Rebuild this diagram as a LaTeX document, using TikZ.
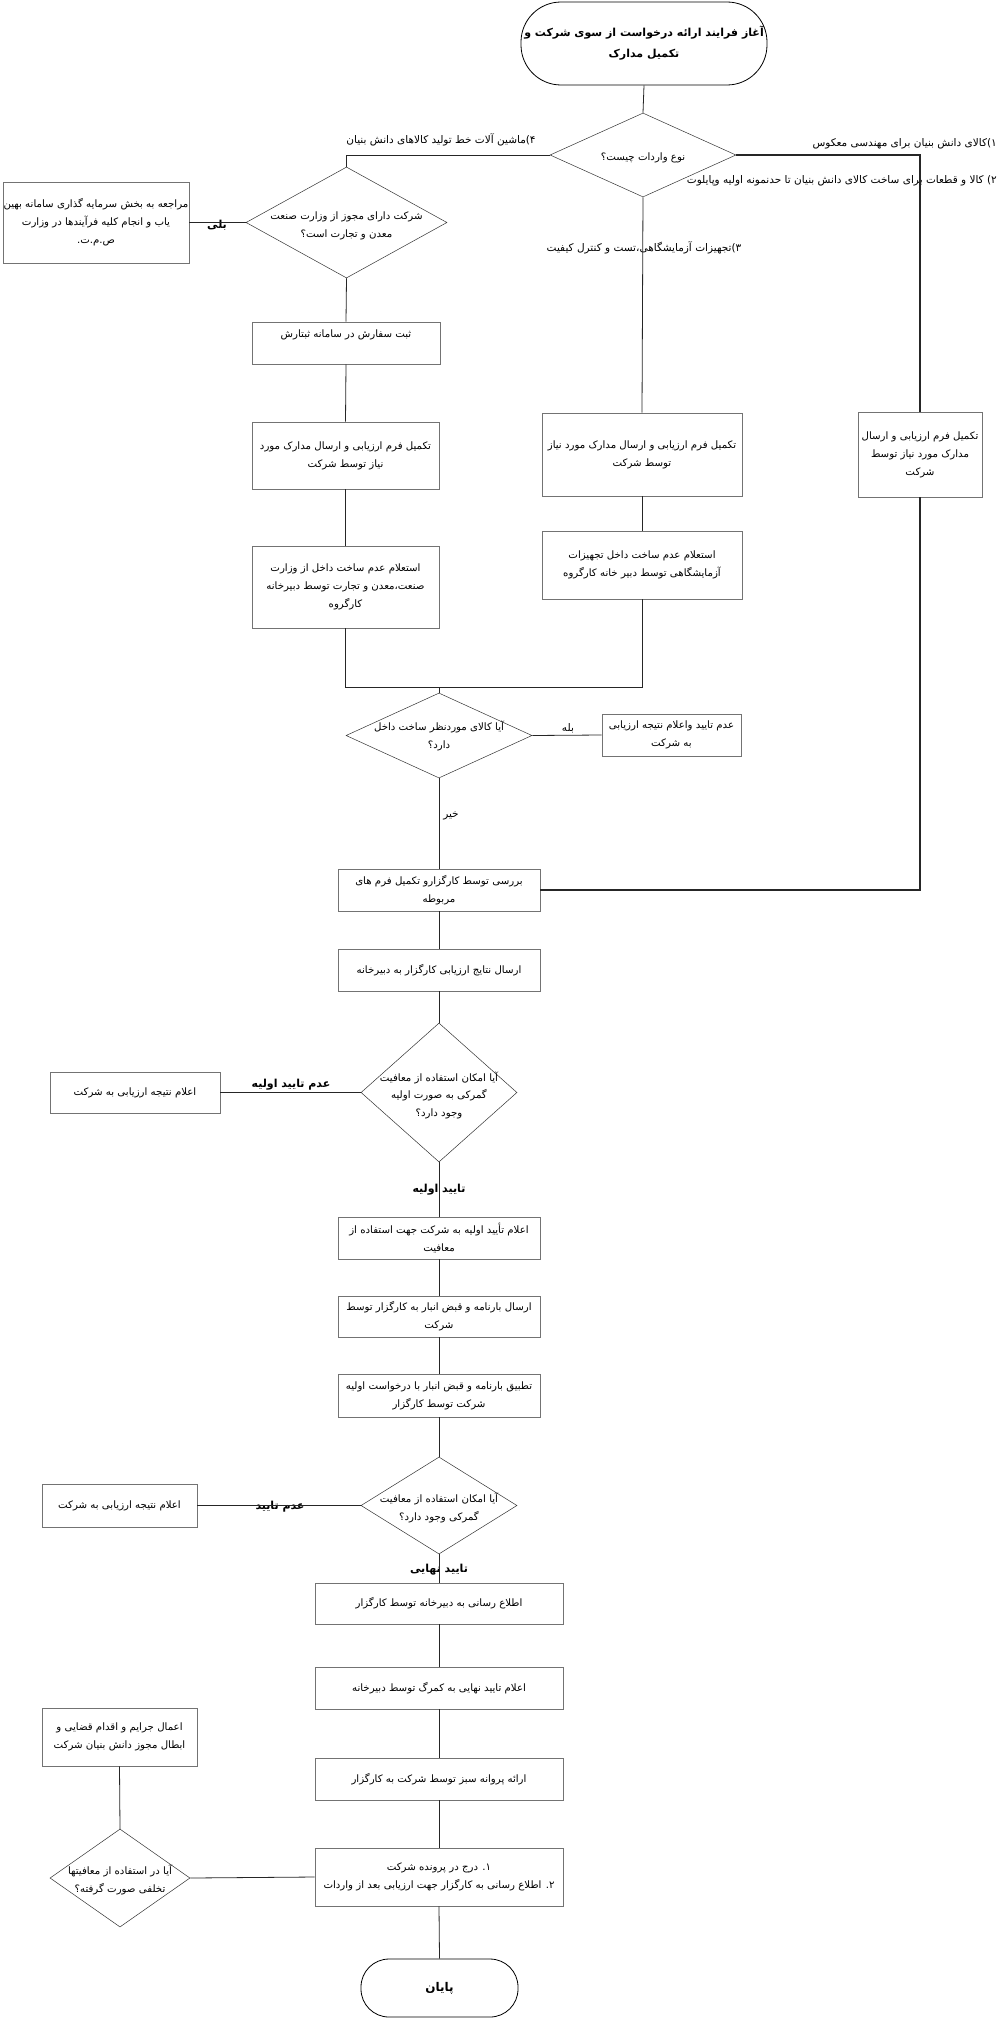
\documentclass[tikz,border=0pt]{standalone}
\usepackage{fontspec}
\newfontfamily\fa[Script=Arabic]{DejaVu Sans}
\TeXXeTstate=1
\usetikzlibrary{shapes.geometric}
\newcommand{\rl}[1]{\beginR #1\endR}
\begin{document}
\begin{tikzpicture}[x=1pt,y=-1pt,
  box/.style={draw=black!55, line width=0.7pt, rectangle, inner sep=0pt, align=center,
    font=\fa\fontsize{10.2}{18}\selectfont},
  dia/.style={draw=black!80, line width=0.5pt, diamond, inner sep=0pt},
  term/.style={draw=black, line width=0.8pt, rectangle, align=center, inner sep=0pt},
  txt/.style={align=center, inner sep=0pt, font=\fa\fontsize{10.2}{17.5}\selectfont},
  lbl/.style={inner sep=0pt, font=\fa\fontsize{10.5}{12}\selectfont},
  blbl/.style={inner sep=0pt, font=\fa\bfseries\fontsize{11}{12}\selectfont},
  conn/.style={draw=black!85, line width=0.8pt},
  tconn/.style={draw=black!85, line width=1.4pt}]
\path[use as bounding box] (0,0) rectangle (1000,2018);

% terminals
\node[term, minimum width=246, minimum height=83, rounded corners=40pt,
  font=\fa\bfseries\fontsize{11}{21}\selectfont] (start) at (644,43.5)
  {\rl{آغاز فرایند ارائه درخواست از سوی شرکت و}\\\rl{تکمیل مدارک}};
\node[term, minimum width=157, minimum height=58, rounded corners=28pt,
  font=\fa\bfseries\fontsize{12}{14}\selectfont] (end) at (439.5,1988) {\rl{پایان}};

% decision 1
\node[dia, minimum width=186, minimum height=84] (d1) at (643,155) {};
\node[txt] (d1t) at (643,158) {\rl{نوع واردات چیست؟}};
\node[lbl] (l4) at (441,140) {\rl{۴)ماشین آلات خط تولید کالاهای دانش بنیان}};
\node[lbl, anchor=east] (l1) at (997,144) {\rl{۱)کالای دانش بنیان برای مهندسی معکوس}};
\node[lbl, anchor=east] (l2) at (997,181) {\rl{۲) کالا و قطعات برای ساخت کالای دانش بنیان تا حدنمونه اولیه وپایلوت}};
\node[lbl] (l3) at (644,248) {\rl{۳)تجهیزات آزمایشگاهی،تست و کنترل کیفیت}};

% left branch
\node[dia, minimum width=201, minimum height=111] (d2) at (346.5,222.5) {};
\node[txt] (d2t) at (346.5,226) {\rl{شرکت دارای مجوز از وزارت صنعت}\\\rl{معدن و تجارت است؟}};
\node[box, minimum width=186, minimum height=81] (lb) at (96,222.5)
  {\rl{مراجعه به بخش سرمایه گذاری سامانه بهین}\\\rl{یاب و انجام کلیه فرآیندها در وزارت}\\\rl{ص.م.ت.}};
\node[blbl] (bali) at (217,225) {\rl{بلی}};
\node[box, minimum width=188, minimum height=42] (sabt) at (346,343)
  {\rl{ثبت سفارش در سامانه ثبتارش}\\\mbox{}};
\node[box, minimum width=187, minimum height=67] (tk1) at (345.5,455.5)
  {\rl{تکمیل فرم ارزیابی و ارسال مدارک مورد}\\\rl{نیاز توسط شرکت}};
\node[box, minimum width=187, minimum height=82] (es1) at (345.5,587)
  {\rl{استعلام عدم ساخت داخل از وزارت}\\\rl{صنعت،معدن و تجارت توسط دبیرخانه}\\\rl{کارگروه}};

% middle branch
\node[box, minimum width=200, minimum height=83] (tk2) at (642,454.5)
  {\rl{تکمیل فرم ارزیابی و ارسال مدارک مورد نیاز}\\\rl{توسط شرکت}};
\node[box, minimum width=200, minimum height=68] (es2) at (642,565)
  {\rl{استعلام عدم ساخت داخل تجهیزات}\\\rl{آزمایشگاهی توسط دبیر خانه کارگروه}};

% right branch
\node[box, minimum width=124, minimum height=85] (tk3) at (920,454.5)
  {\rl{تکمیل فرم ارزیابی و ارسال}\\\rl{مدارک مورد نیاز توسط}\\\rl{شرکت}};

\coordinate (jL) at (345.5,687);
\coordinate (jR) at (642,687);

% decision 3
\node[dia, minimum width=186, minimum height=85] (d3) at (439,735.5) {};
\node[txt] (d3t) at (439,736) {\rl{آیا کالای موردنظر ساخت داخل}\\\rl{دارد؟}};
\node[box, minimum width=139, minimum height=42] (adam) at (671.5,735)
  {\rl{عدم تایید واعلام نتیجه ارزیابی}\\\rl{به شرکت}};
\node[lbl] (bale) at (568,728) {\rl{بله}};
\node[lbl] (kheir) at (451,816) {\rl{خیر}};

% central flow
\node[box, minimum width=202, minimum height=42] (barresi) at (439,890)
  {\rl{بررسی توسط کارگزارو تکمیل فرم های}\\\rl{مربوطه}};
\node[box, minimum width=202, minimum height=42] (ersal) at (439,970)
  {\rl{ارسال نتایج ارزیابی کارگزار به دبیرخانه}};
\node[dia, minimum width=156, minimum height=139] (d4) at (439,1092.5) {};
\node[txt] (d4t) at (439,1095) {\rl{آیا امکان استفاده از معافیت}\\\rl{گمرکی به صورت اولیه}\\\rl{وجود دارد؟}};
\node[box, minimum width=170, minimum height=41] (elam1) at (135,1092.5)
  {\rl{اعلام نتیجه ارزیابی به شرکت}};
\node[blbl] (adamav) at (291,1085) {\rl{عدم تایید اولیه}};
\node[blbl] (taeedav) at (439,1190) {\rl{تایید اولیه}};

\node[box, minimum width=202, minimum height=42] (taeed) at (439,1238)
  {\rl{اعلام تأیید اولیه به شرکت جهت استفاده از}\\\rl{معافیت}};
\node[box, minimum width=202, minimum height=41] (barname) at (439,1316.5)
  {\rl{ارسال بارنامه و قبض انبار به کارگزار توسط}\\\rl{شرکت}};
\node[box, minimum width=202, minimum height=43] (tatbigh) at (439,1395.5)
  {\rl{تطبیق بارنامه و قبض انبار با درخواست اولیه}\\\rl{شرکت توسط کارگزار}};
\node[dia, minimum width=156, minimum height=97] (d5) at (439,1505.5) {};
\node[txt] (d5t) at (439,1508) {\rl{آیا امکان استفاده از معافیت}\\\rl{گمرکی وجود دارد؟}};
\node[box, minimum width=155, minimum height=43] (elam2) at (119.5,1505.5)
  {\rl{اعلام نتیجه ارزیابی به شرکت}};
\node[blbl] (adamt) at (280,1507) {\rl{عدم تایید}};
\node[blbl] (nahaei) at (439,1570) {\rl{تایید نهایی}};

\node[box, minimum width=248, minimum height=41] (etela) at (439,1603.5)
  {\rl{اطلاع رسانی به دبیرخانه توسط کارگزار}};
\node[box, minimum width=248, minimum height=42] (gomrok) at (439,1688)
  {\rl{اعلام تایید نهایی به کمرگ توسط دبیرخانه}};
\node[box, minimum width=248, minimum height=42] (parvaneh) at (439,1779)
  {\rl{ارائه پروانه سبز توسط شرکت به کارگزار}};
\node[box, minimum width=248, minimum height=58] (darj) at (439,1877)
  {\rl{۱. درج در پرونده شرکت}\\\rl{۲. اطلاع رسانی به کارگزار جهت ارزیابی بعد از واردات}};
\node[dia, minimum width=140, minimum height=98] (d6) at (120,1878) {};
\node[txt] (d6t) at (120,1880) {\rl{آیا در استفاده از معافیتها}\\\rl{تخلفی صورت گرفته؟}};
\node[box, minimum width=155, minimum height=58] (jarime) at (119.5,1737)
  {\rl{اعمال جرایم و اقدام قضایی و}\\\rl{ابطال مجوز دانش بنیان شرکت}};

% connectors
\draw[conn] (start.south) -- (d1.north);
\draw[conn] (d1.west) -| (d2.north);
\draw[tconn] (d1.east) -| (tk3.north);
\draw[conn] (d1.south) -- (tk2.north);
\draw[tconn] (d2.west) -- (lb.east);
\draw[conn] (d2.south) -- (sabt.north);
\draw[conn] (sabt.south) -- (tk1.north);
\draw[conn] (tk1.south) -- (es1.north);
\draw[conn] (tk2.south) -- (es2.north);
\draw[conn] (es1.south) -- (jL) -- (jR) -- (es2.south);
\draw[conn] (d3.north) -- (d3.north |- jL);
\draw[conn] (d3.east) -- (adam.west);
\draw[conn] (d3.south) -- (barresi.north);
\draw[tconn] (tk3.south) |- (barresi.east);
\draw[conn] (barresi.south) -- (ersal.north);
\draw[conn] (ersal.south) -- (d4.north);
\draw[tconn] (d4.west) -- (elam1.east);
\draw[conn] (d4.south) -- (taeed.north);
\draw[conn] (taeed.south) -- (barname.north);
\draw[conn] (barname.south) -- (tatbigh.north);
\draw[conn] (tatbigh.south) -- (d5.north);
\draw[tconn] (d5.west) -- (elam2.east);
\draw[conn] (d5.south) -- (etela.north);
\draw[conn] (etela.south) -- (gomrok.north);
\draw[conn] (gomrok.south) -- (parvaneh.north);
\draw[conn] (parvaneh.south) -- (darj.north);
\draw[conn] (darj.south) -- (end.north);
\draw[conn] (d6.east) -- (darj.west);
\draw[conn] (d6.north) -- (jarime.south);
\end{tikzpicture}
\end{document}
